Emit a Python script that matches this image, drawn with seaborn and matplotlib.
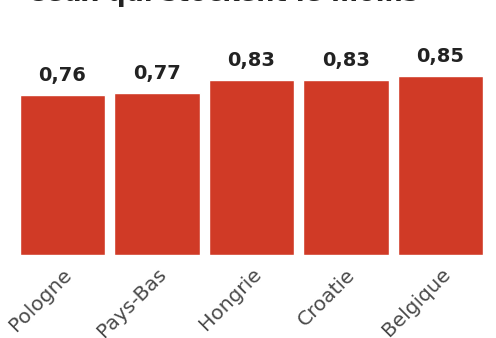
import matplotlib
matplotlib.use("Agg")
import matplotlib.pyplot as plt
import seaborn as sns
import pandas as pd

# Countries with the lowest stock levels
pays = ["Pologne", "Pays-Bas", "Hongrie", "Croatie", "Belgique"]
valeurs = [0.76, 0.77, 0.83, 0.83, 0.85]
etiquettes = ["0,76", "0,77", "0,83", "0,83", "0,85"]
titre = "Ceux qui stockent le moins"

df = pd.DataFrame({"pays": pays, "valeur": valeurs})

sns.set_theme(style="white")
plt.rcParams["font.family"] = ["DejaVu Sans"]

fig = plt.figure(figsize=(4.96, 3.38), dpi=100)
W, H = 496, 338
ax = fig.add_axes([20 / W, (H - 255) / H, 463 / W, 225 / H])

sns.barplot(data=df, x="pays", y="valeur", color="#d03a26", width=0.9,
            saturation=1, ax=ax)

ax.set_xlim(-0.45, 4.45)
ax.set_ylim(0, 225 / 210.6)

for p, lab in zip(ax.patches, etiquettes):
    ax.annotate(lab, (p.get_x() + p.get_width() / 2, p.get_height()),
                xytext=(0, 7), textcoords="offset points",
                ha="center", va="bottom", fontsize=14, fontweight="bold",
                color="#222222")

ax.set_xlabel("")
ax.set_ylabel("")
ax.set_yticks([])
for s in ax.spines.values():
    s.set_visible(False)
ax.tick_params(axis="x", length=0, pad=7)
for t in ax.get_xticklabels():
    t.set_rotation(45)
    t.set_ha("right")
    t.set_rotation_mode("anchor")
    t.set_fontsize(14.5)
    t.set_color("#4a4a4a")

fig.text(27 / W, (H - 1) / H, titre, ha="left", va="baseline",
         fontsize=18.5, fontweight="bold", color="#222222")

fig.savefig("out.png", dpi=100)
